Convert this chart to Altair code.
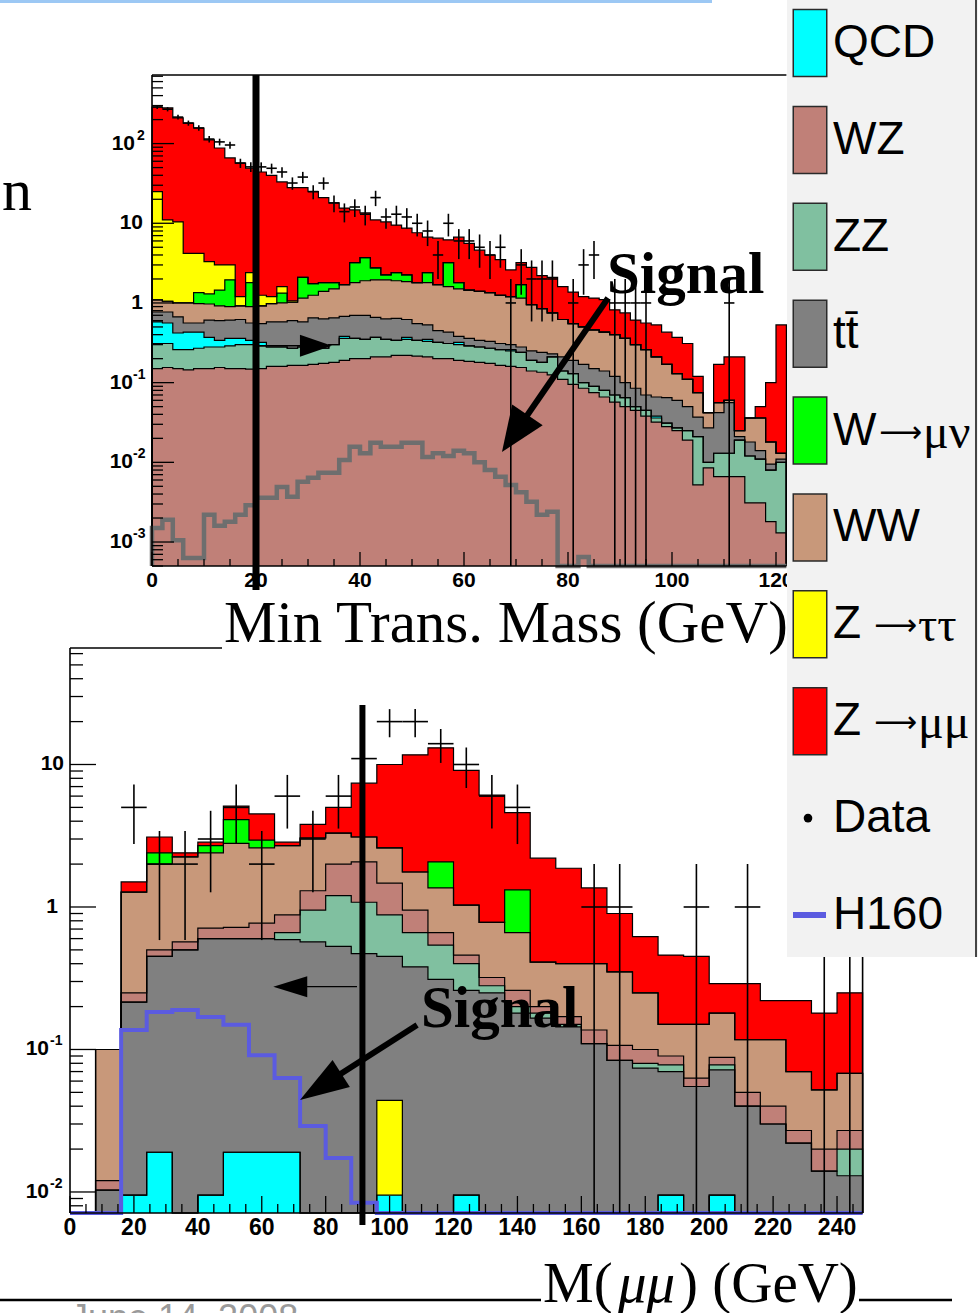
import math

import altair as alt
import pandas as pd

# ------------------------------------------------------------------ canvas
W, H = 978, 1313
SANS = "Liberation Sans"
SERIF = "Liberation Serif"
FLOOR = 1e-7  # empty bins on the log axes, clamped onto the frame

# pixel frames of the two histogram panels
TOP = {"xdom": [0, 122], "xr": [152, 786.4], "ydom": [5.0e-4, 725.6], "yr": [566, 75]}
BOT = {"xdom": [0, 248], "xr": [70, 862.6], "ydom": [7.12e-3, 65.7], "yr": [1213, 648]}

COL = {"QCD": "#00FFFF", "WZ": "#C08078", "ZZ": "#80C0A0", "tt": "#808080",
       "Wmn": "#00FF00", "WW": "#C8987A", "Ztt": "#FFFF00", "Zmm": "#FF0000"}
SIGNAL_GREY = "#6E6E6E"
H160_BLUE = "#5B5BE0"

# ------------------------------------------------------------------ upper panel
# minimum transverse mass, 2 GeV bins; each list is the height of the stack
# up to and including that sample
mt_edges = list(range(0, 124, 2))

mt_wz = [0.15, 0.155, 0.15, 0.145, 0.15, 0.15, 0.155, 0.15, 0.15, 0.148, 0.15,
         0.16, 0.16, 0.165, 0.165, 0.17, 0.175, 0.18, 0.19, 0.2, 0.2, 0.21,
         0.21, 0.22, 0.22, 0.215, 0.21, 0.2, 0.2, 0.19, 0.185, 0.18,
         0.175, 0.165, 0.16, 0.155, 0.14, 0.135, 0.125, 0.11, 0.095, 0.085,
         0.075, 0.066, 0.057, 0.05, 0.045, 0.038, 0.032, 0.028, 0.025,
         0.019, 0.0052, 0.0085, 0.0066, 0.0066, 0.0066, 0.0031, 0.0031, 0.0018, 0.0013]
mt_zz = [0.31, 0.31, 0.26, 0.26, 0.27, 0.28, 0.28, 0.29, 0.3, 0.3, 0.29, 0.28,
         0.28, 0.27, 0.28, 0.28, 0.27, 0.3, 0.36, 0.36, 0.35, 0.37,
         0.35, 0.34, 0.35, 0.34, 0.33, 0.32, 0.31, 0.3, 0.29, 0.28,
         0.27, 0.26, 0.25, 0.24, 0.19, 0.18, 0.21, 0.14, 0.13, 0.1, 0.09, 0.08,
         0.07, 0.065, 0.05, 0.045, 0.036, 0.031, 0.027, 0.025, 0.021,
         0.01, 0.013, 0.013, 0.019, 0.012, 0.011, 0.008, 0.01]
mt_qcd = [0.58, 0.56, 0.42, 0.43, 0.43, 0.37, 0.34, 0.36, 0.36, 0.34, 0.32, 0.28,
          0.28, 0.27, 0.28, 0.29, 0.27, 0.3, 0.38, 0.36, 0.35, 0.37,
          0.35, 0.34, 0.37, 0.34, 0.35, 0.32, 0.31, 0.32, 0.29, 0.28,
          0.27, 0.26, 0.26, 0.24, 0.19, 0.18, 0.21, 0.14, 0.13, 0.1, 0.09, 0.08,
          0.07, 0.065, 0.05, 0.045, 0.038, 0.031, 0.027, 0.025, 0.021,
          0.01, 0.013, 0.013, 0.019, 0.012, 0.011, 0.008, 0.01]
mt_tt = [0.77, 0.77, 0.67, 0.56, 0.56, 0.61, 0.6, 0.61, 0.62, 0.56, 0.55,
         0.58, 0.58, 0.6, 0.58, 0.65, 0.63, 0.65, 0.68, 0.7, 0.7, 0.66,
         0.63, 0.64, 0.62, 0.55, 0.53, 0.45, 0.43, 0.38, 0.36, 0.34,
         0.33, 0.31, 0.3, 0.28, 0.25, 0.24, 0.23, 0.21, 0.19, 0.17, 0.15, 0.14,
         0.12, 0.1, 0.085, 0.07, 0.066, 0.065, 0.06, 0.05, 0.037,
         0.027, 0.042, 0.056, 0.021, 0.018, 0.014, 0.0095, 0.011]
mt_ww = [1.09, 1.05, 1.0, 1.0, 0.98, 0.97, 0.92, 0.9, 0.92, 0.9, 0.92,
         0.98, 1.0, 1.02, 1.15, 1.25, 1.4, 1.5, 1.7, 1.8, 1.9, 1.95,
         1.95, 1.9, 1.85, 1.8, 1.8, 1.7, 1.6, 1.5, 1.45, 1.4,
         1.35, 1.25, 1.2, 1.15, 0.95, 0.85, 0.75, 0.62, 0.55, 0.5, 0.46, 0.43,
         0.4, 0.36, 0.3, 0.26, 0.21, 0.17, 0.13, 0.11, 0.075,
         0.042, 0.056, 0.06, 0.025, 0.036, 0.036, 0.018, 0.013]
mt_wmn = [1.09, 1.05, 1.0, 1.0, 1.35, 1.3, 1.45, 1.95, 0.92, 1.8, 0.92,
          0.98, 1.33, 1.02, 2.1, 1.75, 1.8, 1.8, 1.7, 3.2, 3.7, 2.75,
          2.25, 2.4, 2.25, 1.8, 2.4, 1.7, 3.2, 1.8, 1.45, 1.4,
          1.35, 1.25, 1.2, 1.7, 0.95, 0.85, 0.75, 0.62, 0.55, 0.5, 0.46, 0.43,
          0.4, 0.36, 0.3, 0.26, 0.21, 0.17, 0.13, 0.11, 0.075,
          0.042, 0.056, 0.06, 0.025, 0.036, 0.036, 0.018, 0.013]
mt_ztt = [25, 11, 10.4, 4.2, 4.2, 3.3, 3.0, 3.0, 1.2, 2.4, 1.25,
          1.2, 1.6, 1.06, 2.1, 1.75, 1.8, 1.8, 1.7, 3.2, 3.7, 2.75,
          2.25, 2.4, 2.25, 1.8, 2.4, 1.7, 3.2, 1.8, 1.45, 1.4,
          1.35, 1.25, 1.2, 1.7, 0.95, 0.85, 0.75, 0.62, 0.55, 0.5, 0.46, 0.43,
          0.4, 0.36, 0.3, 0.26, 0.21, 0.17, 0.13, 0.11, 0.075,
          0.042, 0.056, 0.06, 0.025, 0.036, 0.036, 0.018, 0.013]
mt_zmm = [288, 280, 210, 181, 157, 111, 88, 66, 57, 49, 44,
          40, 33, 28, 28, 25, 21, 18, 15.5, 14.7, 13.5, 11,
          10.4, 9.5, 8.7, 7.6, 6.7, 6.5, 6.2, 6.7, 5.6, 4.6,
          4.0, 3.5, 2.6, 3.2, 2.8, 2.2, 2.1, 1.6, 1.37, 1.2, 1.15, 1.1,
          0.82, 0.75, 0.61, 0.56, 0.53, 0.43, 0.37, 0.31, 0.12,
          0.042, 0.17, 0.21, 0.21, 0.036, 0.05, 0.1, 0.53]
mt_data = [288, 270, 215, 181, 157, 114, 105, 96, 57, 51,
           51, 49, 44, 32, 38, 25, 32, 18, 14, 16,
           13, 21, 12, 13, 12, 10, 8, 4, 10, 6,
           6, 5, 4, 5, 1, 3, 2, 2, 2, 0,
           1, 3, 4, 0, 1, 1, 1, 1, 0, 0,
           0, 0, 0, 0, 0, 1, 0, 0, 0, 0, 0]
mt_signal = [0.0015, 0.0019, 0.00105, 0.00063, 0.00063, 0.0022, 0.0016, 0.0018, 0.0022, 0.0029,
             0.0036, 0.0036, 0.0049, 0.0037, 0.0057, 0.0064, 0.0074, 0.0074, 0.0107, 0.0157,
             0.013, 0.0176, 0.0157, 0.0157, 0.0176, 0.0176, 0.0117, 0.013, 0.012, 0.014,
             0.013, 0.01, 0.008, 0.0066, 0.0052, 0.0042, 0.0032, 0.0022, 0.0024, 0,
             0, 0.00065, 0, 0, 0, 0, 0, 0, 0, 0,
             0, 0, 0, 0, 0, 0, 0, 0, 0, 0, 0]

# ------------------------------------------------------------------ lower panel
# dimuon mass, 8 GeV bins (cumulative stack heights as above)
mm_edges = list(range(0, 256, 8))

mm_qcd = [0, 0, 0.0095, 0.019, 0, 0.0095, 0.019, 0.019, 0.019, 0, 0, 0, 0.0095, 0, 0,
          0.0095, 0, 0, 0, 0, 0, 0, 0, 0.0095, 0, 0.0095, 0, 0, 0, 0, 0]
mm_ztt = [0, 0, 0.0095, 0.019, 0, 0.0095, 0.019, 0.019, 0.019, 0, 0, 0, 0.044, 0, 0,
          0.0095, 0, 0, 0, 0, 0, 0, 0, 0.0095, 0, 0.0095, 0, 0, 0, 0, 0]
mm_tt = [0, 0.0103, 0.215, 0.45, 0.5, 0.6, 0.6, 0.6, 0.59, 0.57, 0.53, 0.47, 0.45, 0.38, 0.31,
         0.26, 0.25, 0.18, 0.166, 0.144, 0.11, 0.084, 0.074, 0.07, 0.055, 0.072, 0.04, 0.03,
         0.022, 0.014, 0.013]
mm_zz = [0, 0.0103, 0.215, 0.45, 0.5, 0.6, 0.6, 0.6, 0.66, 0.95, 1.2, 1.08, 0.88, 0.66, 0.54,
         0.4, 0.28, 0.2, 0.18, 0.15, 0.11, 0.084, 0.08, 0.078, 0.055, 0.078, 0.04, 0.03,
         0.022, 0.014, 0.02]
mm_wz = [0, 0.012, 0.25, 0.5, 0.57, 0.71, 0.72, 0.77, 0.88, 1.3, 2.0, 2.07, 1.47, 0.95, 0.66,
         0.46, 0.32, 0.26, 0.2, 0.17, 0.137, 0.107, 0.1, 0.09, 0.063, 0.088, 0.05, 0.04,
         0.027, 0.02, 0.027]
mm_ww = [0, 0.1, 1.27, 2.0, 2.25, 2.4, 2.8, 2.6, 2.7, 3.05, 3.3, 3.1, 2.6, 1.76, 1.36,
         1.03, 0.78, 0.66, 0.41, 0.4, 0.4, 0.35, 0.25, 0.15, 0.15, 0.18, 0.117, 0.117,
         0.07, 0.052, 0.068]
mm_wmn = [0, 0.1, 1.27, 2.4, 2.25, 2.7, 4.1, 2.95, 2.7, 3.05, 3.3, 3.1, 2.6, 1.76, 2.07,
          1.03, 0.78, 1.32, 0.41, 0.4, 0.4, 0.35, 0.25, 0.15, 0.15, 0.18, 0.117, 0.117,
          0.07, 0.052, 0.068]
mm_zmm = [0, 0.1, 1.5, 3.1, 2.4, 2.85, 5.1, 4.5, 2.85, 3.8, 5.0, 7.4, 10.0, 11.7, 13.1,
          9.1, 6.1, 4.6, 2.2, 1.87, 1.36, 0.9, 0.62, 0.46, 0.45, 0.29, 0.29, 0.22,
          0.22, 0.18, 0.25]
mm_data = [0, 0, 5, 2, 2, 3, 5, 2, 6, 3, 6, 11, 20, 20, 14, 10, 6, 5, 0, 0, 1, 1, 0, 0, 1, 0,
           1, 0, 0, 1, 1]
mm_h160 = [0, 0, 0.137, 0.183, 0.189, 0.169, 0.149, 0.091, 0.063, 0.029, 0.0173, 0.0084,
           0, 0, 0, 0, 0, 0, 0, 0, 0, 0, 0, 0, 0, 0, 0, 0, 0, 0, 0]

# drawing order: the tallest cumulative layer first
mt_stack = [("Zmm", mt_zmm), ("Ztt", mt_ztt), ("Wmn", mt_wmn), ("WW", mt_ww),
            ("tt", mt_tt), ("QCD", mt_qcd), ("ZZ", mt_zz), ("WZ", mt_wz)]
mm_stack = [("Zmm", mm_zmm), ("Wmn", mm_wmn), ("WW", mm_ww), ("WZ", mm_wz),
            ("ZZ", mm_zz), ("tt", mm_tt), ("Ztt", mm_ztt), ("QCD", mm_qcd)]

# legend entries
leg_keys = list(range(10))
leg_sans = ["QCD", "WZ", "ZZ", "tt\u0304", "W", "WW", "Z", "Z", "Data", "H160"]
leg_arrow_x = [0, 0, 0, 0, 879, 0, 874, 874, 0, 0]
leg_greek = ["", "", "", "", "\u03bc\u03bd", "", "\u03c4\u03c4", "\u03bc\u03bc", "", ""]
leg_sample = ["QCD", "WZ", "ZZ", "tt", "Wmn", "WW", "Ztt", "Zmm", "", ""]


# ------------------------------------------------------------------ helpers
def sx(p, clamp=True):
    return alt.Scale(domain=p["xdom"], range=p["xr"], zero=False, nice=False, clamp=clamp)


def sy(p, clamp=True):
    return alt.Scale(type="log", domain=p["ydom"], range=p["yr"], nice=False, clamp=clamp)


def X(field, p, clamp=True):
    return alt.X(field, type="quantitative", scale=sx(p, clamp), axis=None)


def Y(field, p, clamp=True):
    return alt.Y(field, type="quantitative", scale=sy(p, clamp), axis=None)


def one():
    return pd.DataFrame({"t": [""]})


def step_points(edges, values, name):
    vals = [v if v > 0 else FLOOR for v in values]
    pts = [(edges[0], FLOOR)] + [(edges[i], v) for i, v in enumerate(vals)]
    pts += [(edges[-1], vals[-1]), (edges[-1], FLOOR)]
    return [{"x": x, "y": y, "layer": name, "i": k} for k, (x, y) in enumerate(pts)]


def stack_layers(p, edges, stack):
    out, lines = [], []
    for name, tops in stack:
        vals = [v if v > 0 else FLOOR for v in tops]
        df = pd.DataFrame({"x": edges, "top": vals + [vals[-1]], "base": FLOOR})
        out.append(alt.Chart(df).mark_area(interpolate="step-after", color=COL[name],
                                           opacity=1, strokeWidth=0).encode(
            x=X("x", p), y=Y("top", p), y2="base"))
        lines += step_points(edges, tops, name)
    out.append(alt.Chart(pd.DataFrame(lines)).mark_line(
        interpolate="step-after", color="black", strokeWidth=1.2).encode(
        x=X("x", p), y=Y("y", p), detail="layer:N", order="i:Q"))
    return out


def step_line(p, edges, values, color, width):
    df = pd.DataFrame(step_points(edges, values, "s"))
    return alt.Chart(df).mark_line(interpolate="step-after", color=color, strokeWidth=width).encode(
        x=X("x", p), y=Y("y", p), order="i:Q")


def data_marks(p, edges, counts):
    rows = []
    for i, n in enumerate(counts):
        if n > 0:
            e = math.sqrt(n)
            rows.append({"xc": (edges[i] + edges[i + 1]) / 2, "x0": edges[i], "x1": edges[i + 1],
                         "n": n, "lo": max(n - e, FLOOR), "hi": n + e})
    df = pd.DataFrame(rows)
    vert = alt.Chart(df).mark_rule(color="black", strokeWidth=1.6).encode(
        x=X("xc", p), y=Y("lo", p), y2="hi")
    horiz = alt.Chart(df).mark_rule(color="black", strokeWidth=1.6).encode(
        x=X("x0", p), x2="x1", y=Y("n", p))
    return [vert, horiz]


def xticks(p, vals, length):
    y0 = p["yr"][0]
    return alt.Chart(pd.DataFrame({"v": vals})).mark_rule(color="black", strokeWidth=1.3).encode(
        x=X("v", p), y=alt.value(y0), y2=alt.value(y0 - length))


def yticks(p, vals, length):
    x0 = p["xr"][0]
    return alt.Chart(pd.DataFrame({"v": vals})).mark_rule(color="black", strokeWidth=1.3).encode(
        y=Y("v", p), x=alt.value(x0), x2=alt.value(x0 + length))


def xlabels(p, vals, ypix, size):
    df = pd.DataFrame({"v": vals, "t": [str(v) for v in vals]})
    return alt.Chart(df).mark_text(font=SANS, fontWeight="bold", fontSize=size,
                                   align="center", baseline="middle").encode(
        x=X("v", p), y=alt.value(ypix), text="t:N")


def ylabels(p, vals, texts, xpix, size, align="right", dy=0):
    df = pd.DataFrame({"v": vals, "t": texts})
    return alt.Chart(df).mark_text(font=SANS, fontWeight="bold", fontSize=size,
                                   align=align, baseline="middle", dy=dy).encode(
        y=Y("v", p), x=alt.value(xpix), text="t:N")


def frame(p, sides):
    (xa, xb), (yb, ya) = p["xr"], p["yr"]
    out = []
    for s in sides:
        if s == "left":
            enc = dict(x=alt.value(xa), y=alt.value(ya), y2=alt.value(yb))
        elif s == "right":
            enc = dict(x=alt.value(xb), y=alt.value(ya), y2=alt.value(yb))
        elif s == "top":
            enc = dict(x=alt.value(xa), x2=alt.value(xb), y=alt.value(ya))
        else:
            enc = dict(x=alt.value(xa), x2=alt.value(xb), y=alt.value(yb))
        out.append(alt.Chart(one()).mark_rule(color="black", strokeWidth=1.6).encode(**enc))
    return out


def text(t, x, y, size, font=SANS, weight="normal", color="black", align="left", style="normal"):
    return alt.Chart(pd.DataFrame({"t": [t]})).mark_text(
        font=font, fontSize=size, fontWeight=weight, fontStyle=style, color=color,
        align=align, baseline="alphabetic").encode(x=alt.value(x), y=alt.value(y), text="t:N")


def box(x0, x1, y0, y1, color):
    return alt.Chart(one()).mark_rect(color=color).encode(
        x=alt.value(x0), x2=alt.value(x1), y=alt.value(y0), y2=alt.value(y1))


def hline(x0, x1, y, color="black", width=2.5):
    return alt.Chart(one()).mark_rule(color=color, strokeWidth=width).encode(
        x=alt.value(x0), x2=alt.value(x1), y=alt.value(y))


def vbar(p, xval, ytop, ybot, width):
    df = pd.DataFrame({"x": [xval], "a": [ytop], "b": [ybot]})
    return alt.Chart(df).mark_rule(color="black", strokeWidth=width).encode(
        x=X("x", p, False), y=Y("a", p, False), y2="b")


def arrow(p, tail, end, tip, angle, head_len, head_hw, width):
    shaft = alt.Chart(pd.DataFrame({"x": [tail[0]], "y": [tail[1]], "x2": [end[0]], "y2": [end[1]]})) \
        .mark_rule(color="black", strokeWidth=width).encode(
        x=X("x", p), y=Y("y", p), x2="x2", y2="y2")
    k = head_len / 2.0
    shape = "M0,0L%.3f,2L%.3f,2Z" % (-head_hw / k, head_hw / k)
    head = alt.Chart(pd.DataFrame({"x": [tip[0]], "y": [tip[1]]})).mark_point(
        shape=shape, size=head_len ** 2, filled=True, color="black", opacity=1, angle=angle).encode(
        x=X("x", p), y=Y("y", p))
    return [shaft, head]


def minors(lo, hi):
    out = []
    for d in range(-4, 3):
        for k in range(2, 10):
            v = k * 10.0 ** d
            if lo <= v <= hi:
                out.append(v)
    return out


# ------------------------------------------------------------------ upper panel layers
layers = []
layers += stack_layers(TOP, mt_edges, mt_stack)
layers.append(step_line(TOP, mt_edges, mt_signal, SIGNAL_GREY, 4.5))
layers += data_marks(TOP, mt_edges, mt_data)
layers.append(xticks(TOP, list(range(0, 121, 20)), 14))
layers.append(xticks(TOP, [v for v in range(5, 122, 5) if v % 20], 7))
layers.append(yticks(TOP, [1e-3, 1e-2, 1e-1, 1, 10, 100], 22))
layers.append(yticks(TOP, minors(*TOP["ydom"]), 11))
layers += frame(TOP, ["left", "top", "bottom"])
layers.append(xlabels(TOP, list(range(0, 121, 20)), 581, 21))
layers.append(ylabels(TOP, [10, 1], ["10", "1"], 143, 21))
layers.append(ylabels(TOP, [100], ["10"], 135, 21))
layers.append(ylabels(TOP, [100], ["2"], 137, 14, align="left", dy=-8))
layers.append(ylabels(TOP, [0.1, 0.01, 0.001], ["10", "10", "10"], 133, 21))
layers.append(ylabels(TOP, [0.1, 0.01, 0.001], ["-1", "-2", "-3"], 133, 14, align="left", dy=-8))
layers.append(vbar(TOP, 20, TOP["ydom"][1], 2.5e-4, 7))
layers += arrow(TOP, (20, 0.29), (29.5, 0.29), (34.6, 0.29), 90, 32, 11, 1.4)

# ------------------------------------------------------------------ lower panel layers
layers += stack_layers(BOT, mm_edges, mm_stack)
layers.append(step_line(BOT, mm_edges, mm_h160, H160_BLUE, 4))
layers += data_marks(BOT, mm_edges, mm_data)
layers.append(xticks(BOT, list(range(0, 241, 20)), 17))
layers.append(xticks(BOT, [v for v in range(5, 248, 5) if v % 20], 9))
layers.append(yticks(BOT, [0.01, 0.1, 1, 10], 26))
layers.append(yticks(BOT, minors(*BOT["ydom"]), 13))
layers += frame(BOT, ["left", "top", "bottom", "right"])
layers.append(xlabels(BOT, list(range(0, 241, 20)), 1228, 23))
layers.append(ylabels(BOT, [10], ["10"], 64, 21))
layers.append(ylabels(BOT, [1], ["1"], 58, 21))
layers.append(ylabels(BOT, [0.1, 0.01], ["10", "10"], 49, 21))
layers.append(ylabels(BOT, [0.1, 0.01], ["-1", "-2"], 50, 14, align="left", dy=-8))
layers.append(vbar(BOT, 91.5, 26.2, 0.00586, 6))
layers += arrow(BOT, (89.8, 0.276), (72.0, 0.276), (63.6, 0.276), 270, 34, 10.5, 1.4)

# ------------------------------------------------------------------ titles and call-outs
layers.append(box(222, 787, 597, 653, "white"))
layers.append(text("Min Trans. Mass (GeV)", 224, 642, 59, font=SERIF))
layers.append(text("Signal", 607, 293, 59, font=SERIF, weight="bold"))
layers += arrow(TOP, (87.7, 1.155), (71.1, 0.031), (67.3, 0.0135), 214.5, 45, 18.5, 6)
layers.append(text("Signal", 421, 1027, 59, font=SERIF, weight="bold"))
layers += arrow(BOT, (108.6, 0.1486), (81.2, 0.0601), (71.96, 0.0442), 237.3, 49, 16, 6)

# ------------------------------------------------------------------ legend
leg = pd.DataFrame({"k": leg_keys, "sans": leg_sans, "greek": leg_greek, "ax": leg_arrow_x,
                    "gx": [a + 44 for a in leg_arrow_x],
                    "arrow": ["\u27f6" if g else "" for g in leg_greek],
                    "col": [COL.get(s, "") for s in leg_sample]})
LY = alt.Y("k:O", scale=alt.Scale(type="point", domain=leg_keys, range=[43, 915], padding=0), axis=None)
greek_rows = leg[leg["greek"] != ""]
layers.append(box(787, 978, 0, 957, "#F2F2F2"))
layers.append(alt.Chart(one()).mark_rule(color="#444444", strokeWidth=2).encode(
    x=alt.value(976), y=alt.value(0), y2=alt.value(957)))
layers.append(alt.Chart(leg[leg["col"] != ""]).mark_point(
    shape="M-0.5,-1L0.5,-1L0.5,1L-0.5,1Z", size=67 ** 2, filled=True, opacity=1,
    stroke="#2A2A2A", strokeWidth=1.5).encode(
    x=alt.value(810), y=LY, fill=alt.Fill("col:N", scale=None)))
layers.append(alt.Chart(leg[leg["k"] == 8]).mark_point(
    shape="circle", size=75, filled=True, color="black", opacity=1).encode(x=alt.value(808), y=LY))
layers.append(alt.Chart(leg[leg["k"] == 9]).mark_rule(color=H160_BLUE, strokeWidth=6).encode(
    x=alt.value(793), x2=alt.value(826), y=LY))
layers.append(alt.Chart(leg).mark_text(font=SANS, fontSize=46, align="left", baseline="middle").encode(
    x=alt.value(833), y=LY, text="sans:N"))
layers.append(alt.Chart(greek_rows).mark_text(
    font="DejaVu Sans", fontSize=30, align="left", baseline="middle", dy=2).encode(
    x=alt.X("ax:Q", scale=None, axis=None), y=LY, text="arrow:N"))
layers.append(alt.Chart(greek_rows).mark_text(
    font=SERIF, fontSize=48, align="left", baseline="middle", dy=3).encode(
    x=alt.X("gx:Q", scale=None, axis=None), y=LY, text="greek:N"))

# ------------------------------------------------------------------ slide furniture
layers.append(box(0, 712, 0, 3, "#9CC8F4"))
layers.append(text("n", 2, 210, 60, font=SERIF))
layers.append(hline(0, 541, 1300))
layers.append(hline(859, 952, 1300))
layers.append(text("M(", 543, 1302, 57, font=SERIF))
layers.append(text("\u03bc\u03bc", 618, 1302, 57, font=SERIF, style="italic"))
layers.append(text(") (GeV)", 679, 1302, 57, font=SERIF))
layers.append(text("June 14, 2008", 70, 1330, 36, font=SANS, color="#9A9A9A"))

chart = alt.layer(*layers).resolve_scale(x="independent", y="independent").properties(
    width=W, height=H, padding=0, background="white",
    autosize=alt.AutoSizeParams(type="none"),
).configure_view(stroke=None)

chart.save("out.html", embed_options={"renderer": "svg", "actions": False})
